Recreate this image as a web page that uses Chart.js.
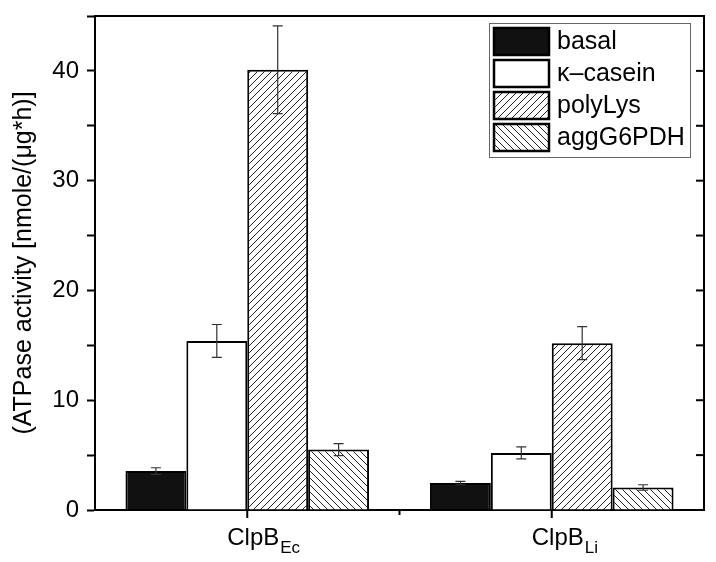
<!DOCTYPE html>
<html>
<head>
<meta charset="utf-8">
<script src="https://cdn.jsdelivr.net/npm/chart.js@4.4.0/dist/chart.umd.min.js"></script>
<style>
  html, body { margin: 0; padding: 0; background: #fff; }
  #wrap { width: 716px; height: 562px; }
</style>
</head>
<body>
<div id="wrap"><canvas id="atpaseChart" width="716" height="562"></canvas></div>
<script>
// categories (main label + subscript)
const labelMain = ['ClpB', 'ClpB'];
const labelSub = ['Ec', 'Li'];

// series values and their error bars
const basal = [3.55, 2.45];
const basalErr = [0.3, 0.15];
const casein = [15.4, 5.2];
const caseinErr = [1.5, 0.55];
const polyLys = [40.1, 15.2];
const polyLysErr = [4.0, 1.5];
const aggG6PDH = [5.5, 2.05];
const aggG6PDHErr = [0.55, 0.25];

const yTicks = [0, 10, 20, 30, 40];
const seriesNames = ['basal', '\u03BA\u2013casein', 'polyLys', 'aggG6PDH'];

const FONT = '"Liberation Sans", Arial, sans-serif';

// hatch patterns
function hatch(dir) {
    const s = 7;
    const c = document.createElement('canvas');
    c.width = s; c.height = s;
    const g = c.getContext('2d');
    g.fillStyle = '#fff';
    g.fillRect(0, 0, s, s);
    g.strokeStyle = '#222';
    g.lineWidth = 1;
    g.beginPath();
    if (dir === '/') {
        g.moveTo(0, s); g.lineTo(s, 0);
        g.moveTo(-1, 1); g.lineTo(1, -1);
        g.moveTo(s - 1, s + 1); g.lineTo(s + 1, s - 1);
    } else {
        g.moveTo(0, 0); g.lineTo(s, s);
        g.moveTo(s - 1, -1); g.lineTo(s + 1, 1);
        g.moveTo(-1, s - 1); g.lineTo(1, s + 1);
    }
    g.stroke();
    return g.createPattern(c, 'repeat');
}

const ctx = document.getElementById('atpaseChart').getContext('2d');
const fills = ['#111', '#fff', hatch('/'), hatch('\\')];
const errors = [basalErr, caseinErr, polyLysErr, aggG6PDHErr];

// error bars, frame, ticks, x labels and legend
const extras = {
    id: 'extras',
    afterDatasetsDraw(chart) {
        const c = chart.ctx;
        const y = chart.scales.y;
        c.save();
        c.strokeStyle = '#333';
        c.lineWidth = 1.2;
        chart.data.datasets.forEach((ds, di) => {
            const meta = chart.getDatasetMeta(di);
            meta.data.forEach((el, i) => {
                const v = ds.data[i], e = errors[di][i];
                const top = y.getPixelForValue(v + e);
                const bot = y.getPixelForValue(v - e);
                c.beginPath();
                c.moveTo(el.x, top); c.lineTo(el.x, bot);
                c.moveTo(el.x - 5, top); c.lineTo(el.x + 5, top);
                c.moveTo(el.x - 5, bot); c.lineTo(el.x + 5, bot);
                c.stroke();
            });
        });
        c.restore();
    },
    afterDraw(chart) {
        const c = chart.ctx;
        const a = chart.chartArea;
        const x = chart.scales.x;
        const y = chart.scales.y;
        c.save();
        c.strokeStyle = '#000';
        c.lineWidth = 2;
        // top and right frame
        c.beginPath();
        c.moveTo(a.left, a.top); c.lineTo(a.right, a.top);
        c.lineTo(a.right, a.bottom);
        c.stroke();
        // right axis ticks (inward)
        y.ticks.forEach(t => {
            const py = y.getPixelForValue(t.value);
            if (t.value <= y.min || t.value >= y.max) return;
            c.beginPath();
            c.moveTo(a.right - 8, py); c.lineTo(a.right, py);
            c.stroke();
        });
        // x ticks at centers and boundaries
        const n = labelMain.length;
        for (let i = 0; i < n; i++) {
            const px = x.getPixelForValue(i);
            c.beginPath();
            c.moveTo(px, a.bottom); c.lineTo(px, a.bottom + 8);
            c.stroke();
            if (i < n - 1) {
                const bx = (px + x.getPixelForValue(i + 1)) / 2;
                c.beginPath();
                c.moveTo(bx, a.bottom); c.lineTo(bx, a.bottom + 5);
                c.stroke();
            }
        }
        // x labels with subscripts
        c.fillStyle = '#000';
        c.textBaseline = 'alphabetic';
        for (let i = 0; i < n; i++) {
            const px = x.getPixelForValue(i);
            c.font = '24px ' + FONT;
            const mw = c.measureText(labelMain[i]).width;
            const sx = px - mw / 2 + 6;
            c.textAlign = 'left';
            c.fillText(labelMain[i], sx, a.bottom + 35);
            c.font = '17px ' + FONT;
            c.fillText(labelSub[i], sx + mw + 1, a.bottom + 43);
        }
        // legend
        const lw = 201, lh = 134;
        const lx = a.right - 215, ly = a.top + 7;
        c.lineWidth = 1;
        c.strokeStyle = '#666';
        c.strokeRect(lx + 0.5, ly + 0.5, lw, lh);
        seriesNames.forEach((name, i) => {
            const ry = ly + 4 + i * 32;
            c.fillStyle = fills[i];
            c.fillRect(lx + 4, ry, 57, 29);
            c.lineWidth = 2.5;
            c.strokeStyle = '#000';
            c.strokeRect(lx + 5, ry + 1, 55, 27);
            c.fillStyle = '#000';
            c.font = '25px ' + FONT;
            c.textAlign = 'left';
            c.textBaseline = 'middle';
            c.fillText(name, lx + 68, ry + 15);
        });
        c.restore();
    }
};

const chart = new Chart(ctx, {
    type: 'bar',
    data: {
        labels: labelMain.map((m, i) => m + labelSub[i]),
        datasets: [basal, casein, polyLys, aggG6PDH].map((d, i) => ({
            label: seriesNames[i],
            data: d,
            backgroundColor: fills[i],
            borderColor: '#000',
            borderWidth: 2,
            categoryPercentage: 0.8,
            barPercentage: 1.0
        }))
    },
    options: {
        responsive: false,
        animation: false,
        layout: { padding: { top: 16, right: 12, left: 0, bottom: 0 } },
        plugins: {
            legend: { display: false },
            tooltip: { enabled: false }
        },
        scales: {
            x: {
                grid: { display: false },
                border: { display: true, color: '#000', width: 2 },
                ticks: { display: false },
                afterFit(s) { s.height = 52; }
            },
            y: {
                min: 0,
                max: 45,
                grid: { drawOnChartArea: false, color: '#000', tickLength: 8, tickWidth: 2 },
                border: { color: '#000', width: 2 },
                ticks: {
                    stepSize: 5,
                    color: '#000',
                    padding: 8,
                    font: { family: FONT, size: 24 },
                    callback: v => yTicks.includes(v) ? String(v) : ''
                },
                title: {
                    display: true,
                    text: '(ATPase activity [nmole/(\u03BCg*h)]',
                    color: '#000',
                    font: { family: FONT, size: 25 },
                    padding: { top: 9, bottom: 0 }
                },
                afterFit(s) {
                    s.width = 95;
                    s.paddingTop = 0;
                    s.paddingBottom = 0;
                }
            }
        }
    },
    plugins: [extras]
});
</script>
</body>
</html>
